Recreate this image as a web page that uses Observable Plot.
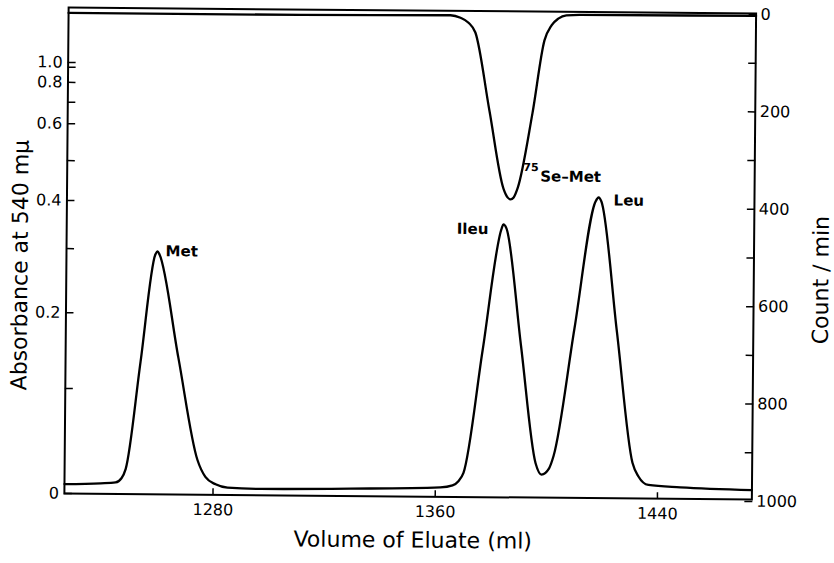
<!DOCTYPE html>
<html>
<head>
<meta charset="utf-8">
<script src="https://cdn.jsdelivr.net/npm/d3@7"></script>
<script src="https://cdn.jsdelivr.net/npm/@observablehq/plot@0.6"></script>
<style>
  html, body { margin: 0; padding: 0; background: #fff; }
  /* the figure sits at a slight clockwise tilt on the page */
  #chart { position: relative; width: 834px; height: 563px;
           transform: rotate(0.5deg); transform-origin: 409.75px 253px; }
  #chart svg { position: absolute; left: 0; top: 0; }
</style>
</head>
<body>
<div id="chart"></div>
<script>
// Ninhydrin trace: elution volume (ml) and absorbance at 540 mμ
const absVolume = [1226.5, 1239.5, 1244.9, 1247.0, 1248.5, 1253.5, 1258.5, 1259.3, 1260.0, 1267.1,
                   1274.3, 1277.2, 1280.9, 1285.2, 1297.1, 1329.5, 1361.8, 1366.2, 1368.3, 1370.1,
                   1376.6, 1383.1, 1383.7, 1384.8, 1390.4, 1396.0, 1398.2, 1400.9, 1402.5, 1409.6,
                   1416.8, 1417.9, 1418.9, 1424.9, 1430.9, 1433.1, 1436.7, 1448.2, 1474.0];
const absorbance = [0.009, 0.010, 0.011, 0.015, 0.024, 0.136, 0.292, 0.297, 0.292, 0.142,
                    0.033, 0.017, 0.010, 0.007, 0.006, 0.007, 0.009, 0.011, 0.015, 0.023,
                    0.155, 0.350, 0.358, 0.350, 0.162, 0.033, 0.022, 0.028, 0.040, 0.185,
                    0.409, 0.419, 0.409, 0.181, 0.034, 0.021, 0.013, 0.011, 0.009];

// 75Se radioactivity: elution volume (ml) and count/min
const countVolume = [1226.5, 1310.0, 1364.0, 1367.6, 1370.5, 1373.0, 1378.3, 1383.6, 1385.1, 1386.2,
                     1387.3, 1388.7, 1393.8, 1397.9, 1400.4, 1402.8, 1405.7, 1410.8, 1474.0];
const counts = [9, 9, 7, 12, 22, 42, 202, 362, 380, 384, 380, 361, 207, 57, 26, 12, 5, 4, 3];

// peak names and the sample each one sits on
const aminoPeaks = ["Met", "Ileu", "Leu"];
const aminoPeakIndex = [7, 22, 31];
const seleniumIsotope = "75";
const seleniumPeak = "Se–Met";
const seleniumPeakIndex = 9;

// axis ticks
const volumeTicks = [1280, 1360, 1440];
const absTicks = [0, 0.1, 0.2, 0.3, 0.4, 0.5, 0.6, 0.7, 0.8, 0.9, 1.0];
const absTickLabels = ["0", "", "0.2", "", "0.4", "", "0.6", "", "0.8", "", "1.0"];
const countTicks = [0, 100, 200, 300, 400, 500, 600, 700, 800, 900, 1000];
const countTickLabels = ["0", "", "200", "", "400", "", "600", "", "800", "", "1000"];

const xTitle = "Volume of Eluate (ml)";
const yTitle = "Absorbance at 540 mμ";
const y2Title = "Count / min";

// The absorbance axis follows the recorder's printed chart-paper ruling:
// each tick value maps to its height as a fraction of the frame.
const paper = d3.scaleLinear()
  .domain(absTicks)
  .range([0, 0.216, 0.372, 0.504, 0.603, 0.685, 0.761, 0.805, 0.846, 0.877, 0.887]);

const absData = absVolume.map((v, i) => ({volume: v, absorbance: absorbance[i]}));
const countData = countVolume.map((v, i) => ({volume: v, counts: counts[i]}));
const peakData = aminoPeakIndex.map((k, j) => ({name: aminoPeaks[j], volume: absVolume[k], absorbance: absorbance[k]}));
const sePeakData = [{isotope: seleniumIsotope, name: seleniumPeak,
                     volume: countVolume[seleniumPeakIndex], counts: counts[seleniumPeakIndex]}];

const layout = {
  width: 834, height: 563,
  marginLeft: 66, marginRight: 80.5, marginTop: 10, marginBottom: 67
};
const xScale = {domain: [1226.5, 1474]};
const font = {fontFamily: "'DejaVu Sans', sans-serif", fontSize: "16px", color: "#000"};
const labelFont = {fontFamily: "'DejaVu Sans', sans-serif", fontWeight: "bold", fontSize: 15};
const absY = d => paper(d.absorbance);

// absorbance panel
const absPlot = Plot.plot({
  ...layout,
  style: {...font, background: "#fff"},
  x: xScale,
  y: {domain: [0, 1]},
  marks: [
    Plot.frame({stroke: "#000", strokeWidth: 2}),
    Plot.axisX({ticks: volumeTicks, tickSize: -6, tickPadding: 15, tickFormat: d => String(d),
                label: null, fontSize: 16, strokeWidth: 1.5}),
    Plot.axisY({anchor: "left", ticks: absTicks.map(paper), tickSize: -8, tickPadding: 13.5,
                tickFormat: (d, i) => absTickLabels[absTicks.map(paper).indexOf(d)],
                label: null, fontSize: 16, strokeWidth: 1.5}),
    Plot.line(absData, {x: "volume", y: absY, curve: "monotone-x", stroke: "#000", strokeWidth: 2.3}),
    Plot.text(peakData.filter(d => d.name === "Met"),
              {x: "volume", y: absY, text: "name", textAnchor: "start", dx: 8, dy: 0, ...labelFont}),
    Plot.text(peakData.filter(d => d.name === "Ileu"),
              {x: "volume", y: absY, text: "name", textAnchor: "end", dx: -15, dy: 5, ...labelFont}),
    Plot.text(peakData.filter(d => d.name === "Leu"),
              {x: "volume", y: absY, text: "name", textAnchor: "start", dx: 15, dy: 3, ...labelFont}),
    Plot.text([xTitle], {text: d => d, frameAnchor: "bottom", textAnchor: "middle", dx: 5, dy: 51, fontSize: 22}),
    Plot.text([yTitle], {text: d => d, frameAnchor: "left", textAnchor: "middle", rotate: -90, dx: -46, dy: 15, fontSize: 22})
  ]
});

// radioactivity panel: right axis, counts increase downwards
const countPlot = Plot.plot({
  ...layout,
  style: {...font, background: "transparent"},
  x: {...xScale, axis: null},
  y: {domain: [0, 1000], range: [11, 498]},
  marks: [
    Plot.axisY({anchor: "right", ticks: countTicks, tickSize: -8, tickPadding: 12.5,
                tickFormat: d => countTickLabels[countTicks.indexOf(d)], label: null, fontSize: 16, strokeWidth: 1.5}),
    Plot.line(countData, {x: "volume", y: "counts", curve: "monotone-x", stroke: "#000", strokeWidth: 2.3}),
    Plot.text(sePeakData, {x: "volume", y: "counts", text: "isotope", textAnchor: "start", dx: 12.5, dy: -32,
                           ...labelFont, fontSize: 11}),
    Plot.text(sePeakData, {x: "volume", y: "counts", text: "name", textAnchor: "start", dx: 29.5, dy: -23, ...labelFont}),
    Plot.text([y2Title], {text: d => d, frameAnchor: "right", textAnchor: "middle", rotate: -90, dx: 67.5, dy: 23, fontSize: 22})
  ]
});

const chart = document.getElementById("chart");
chart.appendChild(absPlot);
chart.appendChild(countPlot);
</script>
</body>
</html>
